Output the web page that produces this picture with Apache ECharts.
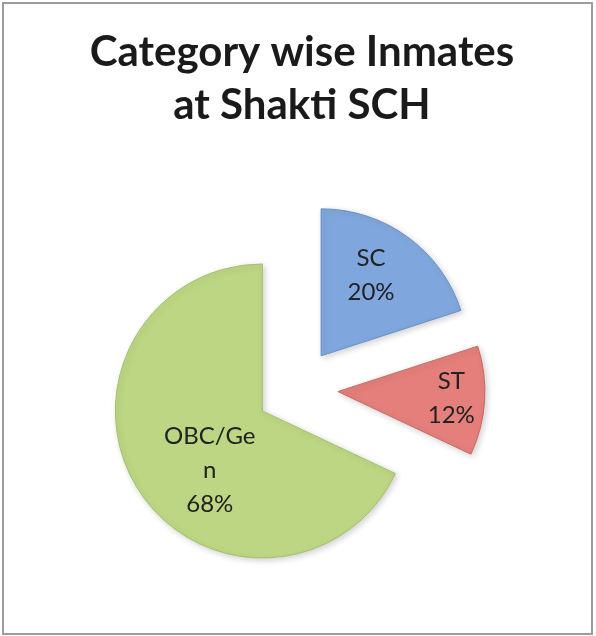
<!DOCTYPE html>
<html>
<head>
<meta charset="utf-8">
<script src="https://cdn.jsdelivr.net/npm/echarts@6/dist/echarts.min.js"></script>
<style>
	html, body { margin: 0; padding: 0; background: #fff; }
	#pie_chart { width: 596px; height: 636px; }
</style>
</head>
<body>
<div id="pie_chart"></div>
<script>
// 数据
var categories = ['SC', 'ST', 'OBC/Gen'];
var shares = [20, 12, 68];
// label text as wrapped in the picture
var labelNames = ['SC', 'ST', 'OBC/Ge\nn'];

var sliceColors = ['#7fa7dd', '#e47f7b', '#bcd683'];
var edgeColors = ['#6a90c6', '#c96a66', '#a4c26c'];

// nudge labels to where they sit in the picture
var labelShift = [[5, -19], [37, 2], [12, 18]];

var mychart = echarts.init(document.getElementById('pie_chart'));

var pieData = categories.map(function(name, i) {
	return {
		name: name,
		value: shares[i],
		selected: true,
		itemStyle: {
			color: sliceColors[i],
			borderColor: edgeColors[i],
			borderWidth: 1
		},
		select: {
			itemStyle: {
				color: sliceColors[i],
				borderColor: edgeColors[i],
				borderWidth: 1
			}
		}
	};
});

var option = {
	animation: false,
	backgroundColor: '#fff',
	title: {
		text: 'Category wise Inmates\nat Shakti SCH',
		left: 297,
		top: 21,
		textAlign: 'center',
		textStyle: {
			fontFamily: 'Lato',
			fontWeight: 'bold',
			fontSize: 42,
			lineHeight: 53,
			color: '#1a1a1a'
		}
	},
	graphic: [{
		type: 'rect',
		shape: { x: 3, y: 3, width: 589, height: 631 },
		style: { fill: 'none', stroke: '#9c9c9c', lineWidth: 2 },
		silent: true
	}],
	series: [{
		type: 'pie',
		center: [297, 389],
		radius: 147,
		startAngle: 90,
		clockwise: true,
		selectedMode: 'multiple',
		selectedOffset: 41,
		emphasis: { disabled: true },
		itemStyle: {
			shadowBlur: 6,
			shadowColor: 'rgba(0,0,0,0.18)',
			shadowOffsetX: 2,
			shadowOffsetY: 2
		},
		label: {
			show: true,
			position: 'inside',
			fontFamily: 'Lato',
			fontSize: 24,
			lineHeight: 34,
			color: '#222',
			formatter: function(p) {
				return labelNames[p.dataIndex] + '\n' + p.value + '%';
			}
		},
		labelLine: { show: false },
		labelLayout: function(p) {
			var s = labelShift[p.dataIndex];
			return { dx: s[0], dy: s[1] };
		},
		data: pieData
	}]
};

mychart.setOption(option);
</script>
</body>
</html>
